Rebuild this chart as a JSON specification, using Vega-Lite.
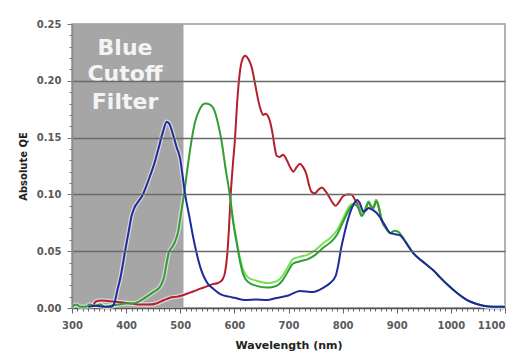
{
  "$schema": "https://vega.github.io/schema/vega-lite/v6.json",
  "width": 433,
  "height": 284,
  "autosize": {"type": "none"},
  "padding": {"left": 72, "top": 24, "right": 8, "bottom": 43},
  "background": "white",
  "config": {"view": {"stroke": "#9a9a9a", "strokeWidth": 1.5}, "font": "DejaVu Sans"},
  "datasets": {
    "filter": [{"wl": 300, "wl2": 506, "qe": 0, "qe2": 0.25}],
    "labels": [
      {"label": "Blue", "wl": 398, "qe": 0.2290},
      {"label": "Cutoff", "wl": 398, "qe": 0.2061},
      {"label": "Filter", "wl": 398, "qe": 0.1812}
    ],
    "curves": [
      {"s": "red", "wl": 340, "qe": 0.003}, {"s": "red", "wl": 345, "qe": 0.006}, {"s": "red", "wl": 355, "qe": 0.0065}, {"s": "red", "wl": 370, "qe": 0.006}, {"s": "red", "wl": 390, "qe": 0.005}, {"s": "red", "wl": 410, "qe": 0.004}, {"s": "red", "wl": 426, "qe": 0.003}, {"s": "red", "wl": 440, "qe": 0.003}, {"s": "red", "wl": 456, "qe": 0.004}, {"s": "red", "wl": 470, "qe": 0.007}, {"s": "red", "wl": 481, "qe": 0.009}, {"s": "red", "wl": 495, "qe": 0.010}, {"s": "red", "wl": 503, "qe": 0.011}, {"s": "red", "wl": 515, "qe": 0.013}, {"s": "red", "wl": 524, "qe": 0.0145}, {"s": "red", "wl": 537, "qe": 0.017}, {"s": "red", "wl": 549, "qe": 0.019}, {"s": "red", "wl": 560, "qe": 0.021}, {"s": "red", "wl": 570, "qe": 0.022}, {"s": "red", "wl": 578, "qe": 0.025}, {"s": "red", "wl": 583, "qe": 0.032}, {"s": "red", "wl": 587, "qe": 0.048}, {"s": "red", "wl": 590, "qe": 0.070}, {"s": "red", "wl": 593, "qe": 0.098}, {"s": "red", "wl": 597, "qe": 0.125}, {"s": "red", "wl": 601, "qe": 0.148}, {"s": "red", "wl": 605, "qe": 0.180}, {"s": "red", "wl": 610, "qe": 0.207}, {"s": "red", "wl": 615, "qe": 0.219}, {"s": "red", "wl": 620, "qe": 0.222}, {"s": "red", "wl": 626, "qe": 0.219}, {"s": "red", "wl": 632, "qe": 0.212}, {"s": "red", "wl": 638, "qe": 0.198}, {"s": "red", "wl": 644, "qe": 0.183}, {"s": "red", "wl": 649, "qe": 0.174}, {"s": "red", "wl": 653, "qe": 0.170}, {"s": "red", "wl": 658, "qe": 0.171}, {"s": "red", "wl": 662, "qe": 0.169}, {"s": "red", "wl": 666, "qe": 0.164}, {"s": "red", "wl": 670, "qe": 0.155}, {"s": "red", "wl": 674, "qe": 0.143}, {"s": "red", "wl": 678, "qe": 0.134}, {"s": "red", "wl": 684, "qe": 0.133}, {"s": "red", "wl": 690, "qe": 0.135}, {"s": "red", "wl": 696, "qe": 0.131}, {"s": "red", "wl": 703, "qe": 0.124}, {"s": "red", "wl": 709, "qe": 0.120}, {"s": "red", "wl": 715, "qe": 0.124}, {"s": "red", "wl": 721, "qe": 0.127}, {"s": "red", "wl": 727, "qe": 0.124}, {"s": "red", "wl": 733, "qe": 0.118}, {"s": "red", "wl": 738, "qe": 0.108}, {"s": "red", "wl": 743, "qe": 0.102}, {"s": "red", "wl": 749, "qe": 0.101}, {"s": "red", "wl": 755, "qe": 0.104}, {"s": "red", "wl": 762, "qe": 0.106}, {"s": "red", "wl": 768, "qe": 0.103}, {"s": "red", "wl": 775, "qe": 0.098}, {"s": "red", "wl": 781, "qe": 0.093}, {"s": "red", "wl": 787, "qe": 0.090}, {"s": "red", "wl": 793, "qe": 0.093}, {"s": "red", "wl": 800, "qe": 0.098}, {"s": "red", "wl": 808, "qe": 0.100}, {"s": "red", "wl": 816, "qe": 0.100}, {"s": "red", "wl": 822, "qe": 0.096}, {"s": "red", "wl": 828, "qe": 0.091}, {"s": "red", "wl": 835, "qe": 0.083}, {"s": "red", "wl": 841, "qe": 0.086}, {"s": "red", "wl": 848, "qe": 0.093}, {"s": "red", "wl": 853, "qe": 0.089}, {"s": "red", "wl": 857, "qe": 0.089}, {"s": "red", "wl": 862, "qe": 0.095}, {"s": "red", "wl": 866, "qe": 0.090}, {"s": "red", "wl": 872, "qe": 0.077},

      {"s": "lightgreen", "wl": 592, "qe": 0.098}, {"s": "lightgreen", "wl": 598, "qe": 0.076}, {"s": "lightgreen", "wl": 604, "qe": 0.060}, {"s": "lightgreen", "wl": 610, "qe": 0.045}, {"s": "lightgreen", "wl": 616, "qe": 0.034}, {"s": "lightgreen", "wl": 625, "qe": 0.027}, {"s": "lightgreen", "wl": 641, "qe": 0.024}, {"s": "lightgreen", "wl": 660, "qe": 0.022}, {"s": "lightgreen", "wl": 671, "qe": 0.0225}, {"s": "lightgreen", "wl": 680, "qe": 0.024}, {"s": "lightgreen", "wl": 690, "qe": 0.029}, {"s": "lightgreen", "wl": 700, "qe": 0.037}, {"s": "lightgreen", "wl": 708, "qe": 0.043}, {"s": "lightgreen", "wl": 720, "qe": 0.045}, {"s": "lightgreen", "wl": 736, "qe": 0.047}, {"s": "lightgreen", "wl": 750, "qe": 0.051}, {"s": "lightgreen", "wl": 764, "qe": 0.057}, {"s": "lightgreen", "wl": 778, "qe": 0.062}, {"s": "lightgreen", "wl": 789, "qe": 0.068}, {"s": "lightgreen", "wl": 800, "qe": 0.078}, {"s": "lightgreen", "wl": 808, "qe": 0.086}, {"s": "lightgreen", "wl": 815, "qe": 0.091}, {"s": "lightgreen", "wl": 822, "qe": 0.092}, {"s": "lightgreen", "wl": 829, "qe": 0.089}, {"s": "lightgreen", "wl": 835, "qe": 0.083}, {"s": "lightgreen", "wl": 841, "qe": 0.087}, {"s": "lightgreen", "wl": 848, "qe": 0.094}, {"s": "lightgreen", "wl": 853, "qe": 0.090}, {"s": "lightgreen", "wl": 857, "qe": 0.089}, {"s": "lightgreen", "wl": 862, "qe": 0.095}, {"s": "lightgreen", "wl": 866, "qe": 0.091}, {"s": "lightgreen", "wl": 872, "qe": 0.078},

      {"s": "green", "wl": 300, "qe": 0.001}, {"s": "green", "wl": 308, "qe": 0.003}, {"s": "green", "wl": 316, "qe": 0.001}, {"s": "green", "wl": 325, "qe": 0.001}, {"s": "green", "wl": 333, "qe": 0.003}, {"s": "green", "wl": 342, "qe": 0.002}, {"s": "green", "wl": 352, "qe": 0.003}, {"s": "green", "wl": 362, "qe": 0.001}, {"s": "green", "wl": 372, "qe": 0.002}, {"s": "green", "wl": 385, "qe": 0.003}, {"s": "green", "wl": 400, "qe": 0.004}, {"s": "green", "wl": 412, "qe": 0.004}, {"s": "green", "wl": 425, "qe": 0.006}, {"s": "green", "wl": 438, "qe": 0.010}, {"s": "green", "wl": 450, "qe": 0.014}, {"s": "green", "wl": 463, "qe": 0.019}, {"s": "green", "wl": 470, "qe": 0.027}, {"s": "green", "wl": 475, "qe": 0.040}, {"s": "green", "wl": 479, "qe": 0.049}, {"s": "green", "wl": 484, "qe": 0.053}, {"s": "green", "wl": 490, "qe": 0.058}, {"s": "green", "wl": 496, "qe": 0.067}, {"s": "green", "wl": 502, "qe": 0.085}, {"s": "green", "wl": 507, "qe": 0.100}, {"s": "green", "wl": 512, "qe": 0.118}, {"s": "green", "wl": 520, "qe": 0.145}, {"s": "green", "wl": 527, "qe": 0.163}, {"s": "green", "wl": 535, "qe": 0.174}, {"s": "green", "wl": 546, "qe": 0.180}, {"s": "green", "wl": 555, "qe": 0.179}, {"s": "green", "wl": 563, "qe": 0.174}, {"s": "green", "wl": 570, "qe": 0.162}, {"s": "green", "wl": 577, "qe": 0.145}, {"s": "green", "wl": 583, "qe": 0.125}, {"s": "green", "wl": 592, "qe": 0.098}, {"s": "green", "wl": 598, "qe": 0.075}, {"s": "green", "wl": 604, "qe": 0.058}, {"s": "green", "wl": 610, "qe": 0.042}, {"s": "green", "wl": 616, "qe": 0.030}, {"s": "green", "wl": 625, "qe": 0.023}, {"s": "green", "wl": 641, "qe": 0.0195}, {"s": "green", "wl": 660, "qe": 0.018}, {"s": "green", "wl": 671, "qe": 0.0185}, {"s": "green", "wl": 680, "qe": 0.020}, {"s": "green", "wl": 690, "qe": 0.025}, {"s": "green", "wl": 700, "qe": 0.033}, {"s": "green", "wl": 708, "qe": 0.039}, {"s": "green", "wl": 720, "qe": 0.041}, {"s": "green", "wl": 736, "qe": 0.043}, {"s": "green", "wl": 750, "qe": 0.047}, {"s": "green", "wl": 764, "qe": 0.053}, {"s": "green", "wl": 778, "qe": 0.058}, {"s": "green", "wl": 789, "qe": 0.064}, {"s": "green", "wl": 800, "qe": 0.075}, {"s": "green", "wl": 808, "qe": 0.083}, {"s": "green", "wl": 815, "qe": 0.089}, {"s": "green", "wl": 822, "qe": 0.091}, {"s": "green", "wl": 829, "qe": 0.088}, {"s": "green", "wl": 835, "qe": 0.081}, {"s": "green", "wl": 841, "qe": 0.085}, {"s": "green", "wl": 848, "qe": 0.093}, {"s": "green", "wl": 853, "qe": 0.089}, {"s": "green", "wl": 857, "qe": 0.088}, {"s": "green", "wl": 862, "qe": 0.094}, {"s": "green", "wl": 866, "qe": 0.090}, {"s": "green", "wl": 872, "qe": 0.077}, {"s": "green", "wl": 880, "qe": 0.070}, {"s": "green", "wl": 888, "qe": 0.066}, {"s": "green", "wl": 896, "qe": 0.068}, {"s": "green", "wl": 903, "qe": 0.067}, {"s": "green", "wl": 910, "qe": 0.063}, {"s": "green", "wl": 917, "qe": 0.058}, {"s": "green", "wl": 924, "qe": 0.053}, {"s": "green", "wl": 931, "qe": 0.048}, {"s": "green", "wl": 945, "qe": 0.042}, {"s": "green", "wl": 958, "qe": 0.037}, {"s": "green", "wl": 968, "qe": 0.033}, {"s": "green", "wl": 980, "qe": 0.027}, {"s": "green", "wl": 995, "qe": 0.020}, {"s": "green", "wl": 1012, "qe": 0.013}, {"s": "green", "wl": 1030, "qe": 0.007}, {"s": "green", "wl": 1045, "qe": 0.004}, {"s": "green", "wl": 1060, "qe": 0.002}, {"s": "green", "wl": 1080, "qe": 0.001}, {"s": "green", "wl": 1100, "qe": 0.001},

      {"s": "blue", "wl": 330, "qe": 0.001}, {"s": "blue", "wl": 345, "qe": 0.002}, {"s": "blue", "wl": 360, "qe": 0.001}, {"s": "blue", "wl": 372, "qe": 0.001}, {"s": "blue", "wl": 378, "qe": 0.004}, {"s": "blue", "wl": 384, "qe": 0.016}, {"s": "blue", "wl": 390, "qe": 0.028}, {"s": "blue", "wl": 398, "qe": 0.050}, {"s": "blue", "wl": 405, "qe": 0.068}, {"s": "blue", "wl": 410, "qe": 0.081}, {"s": "blue", "wl": 415, "qe": 0.088}, {"s": "blue", "wl": 420, "qe": 0.092}, {"s": "blue", "wl": 430, "qe": 0.099}, {"s": "blue", "wl": 437, "qe": 0.107}, {"s": "blue", "wl": 444, "qe": 0.116}, {"s": "blue", "wl": 452, "qe": 0.127}, {"s": "blue", "wl": 459, "qe": 0.139}, {"s": "blue", "wl": 468, "qe": 0.155}, {"s": "blue", "wl": 475, "qe": 0.164}, {"s": "blue", "wl": 480, "qe": 0.162}, {"s": "blue", "wl": 487, "qe": 0.152}, {"s": "blue", "wl": 493, "qe": 0.142}, {"s": "blue", "wl": 500, "qe": 0.131}, {"s": "blue", "wl": 505, "qe": 0.114}, {"s": "blue", "wl": 509, "qe": 0.100}, {"s": "blue", "wl": 517, "qe": 0.080}, {"s": "blue", "wl": 524, "qe": 0.062}, {"s": "blue", "wl": 537, "qe": 0.036}, {"s": "blue", "wl": 550, "qe": 0.022}, {"s": "blue", "wl": 561, "qe": 0.017}, {"s": "blue", "wl": 575, "qe": 0.012}, {"s": "blue", "wl": 590, "qe": 0.010}, {"s": "blue", "wl": 600, "qe": 0.009}, {"s": "blue", "wl": 620, "qe": 0.007}, {"s": "blue", "wl": 640, "qe": 0.0075}, {"s": "blue", "wl": 660, "qe": 0.007}, {"s": "blue", "wl": 678, "qe": 0.0088}, {"s": "blue", "wl": 700, "qe": 0.011}, {"s": "blue", "wl": 721, "qe": 0.015}, {"s": "blue", "wl": 745, "qe": 0.014}, {"s": "blue", "wl": 765, "qe": 0.018}, {"s": "blue", "wl": 777, "qe": 0.022}, {"s": "blue", "wl": 787, "qe": 0.028}, {"s": "blue", "wl": 792, "qe": 0.038}, {"s": "blue", "wl": 797, "qe": 0.052}, {"s": "blue", "wl": 803, "qe": 0.065}, {"s": "blue", "wl": 810, "qe": 0.078}, {"s": "blue", "wl": 818, "qe": 0.089}, {"s": "blue", "wl": 827, "qe": 0.095}, {"s": "blue", "wl": 832, "qe": 0.092}, {"s": "blue", "wl": 838, "qe": 0.085}, {"s": "blue", "wl": 843, "qe": 0.086}, {"s": "blue", "wl": 848, "qe": 0.088}, {"s": "blue", "wl": 853, "qe": 0.087}, {"s": "blue", "wl": 857, "qe": 0.086}, {"s": "blue", "wl": 862, "qe": 0.084}, {"s": "blue", "wl": 869, "qe": 0.080}, {"s": "blue", "wl": 878, "qe": 0.073}, {"s": "blue", "wl": 888, "qe": 0.066}, {"s": "blue", "wl": 897, "qe": 0.065}, {"s": "blue", "wl": 906, "qe": 0.064}, {"s": "blue", "wl": 915, "qe": 0.059}, {"s": "blue", "wl": 923, "qe": 0.053}, {"s": "blue", "wl": 931, "qe": 0.048}, {"s": "blue", "wl": 945, "qe": 0.042}, {"s": "blue", "wl": 958, "qe": 0.037}, {"s": "blue", "wl": 968, "qe": 0.033}, {"s": "blue", "wl": 980, "qe": 0.027}, {"s": "blue", "wl": 995, "qe": 0.020}, {"s": "blue", "wl": 1012, "qe": 0.013}, {"s": "blue", "wl": 1030, "qe": 0.007}, {"s": "blue", "wl": 1045, "qe": 0.004}, {"s": "blue", "wl": 1060, "qe": 0.002}, {"s": "blue", "wl": 1080, "qe": 0.001}, {"s": "blue", "wl": 1100, "qe": 0.001}
    ]
  },
  "encoding": {
    "x": {
      "field": "wl", "type": "quantitative",
      "scale": {"domain": [300, 1100], "nice": false, "zero": false},
      "axis": {
        "title": "Wavelength (nm)", "tickCount": 80, "grid": false, "format": "d",
        "labelExpr": "datum.value % 100 === 0 ? datum.label : ''",
        "labelOverlap": false, "labelFlush": false,
        "labelAlign": {"condition": {"test": "datum.value >= 1100", "value": "right"}, "value": "center"},
        "domainColor": "#555555", "domainWidth": 1.5,
        "tickColor": "#666666",
        "tickSize": {"condition": {"test": "datum.value % 100 === 0", "value": 5}, "value": 3},
        "labelFont": "DejaVu Sans", "labelFontWeight": "bold", "labelFontSize": 10, "labelColor": "#5a5a5a", "labelPadding": 7,
        "titleFont": "DejaVu Sans", "titleFontWeight": "bold", "titleFontSize": 11, "titleColor": "#222222", "titlePadding": 9
      }
    },
    "y": {
      "field": "qe", "type": "quantitative",
      "scale": {"domain": [0, 0.25], "nice": false},
      "axis": {
        "title": "Absolute QE", "tickCount": 25, "zindex": 1,
        "labelExpr": "abs(round(datum.value * 100)) % 5 === 0 ? format(datum.value, '.2f') : ''",
        "labelOverlap": false, "labelFlush": false,
        "grid": true, "gridColor": "#6a6a6a", "gridWidth": 1.5,
        "gridOpacity": {"condition": {"test": "abs(round(datum.value * 100)) % 5 === 0 && datum.value > 0.001 && datum.value < 0.249", "value": 1}, "value": 0},
        "domainColor": "#8a8a8a", "domainWidth": 1.5,
        "tickColor": "#777777",
        "tickSize": {"condition": {"test": "abs(round(datum.value * 100)) % 5 === 0", "value": 5}, "value": 3},
        "labelFont": "DejaVu Sans", "labelFontWeight": "bold", "labelFontSize": 10, "labelColor": "#5a5a5a", "labelPadding": 6,
        "titleFont": "DejaVu Sans", "titleFontWeight": "bold", "titleFontSize": 10, "titleColor": "#222222", "titlePadding": 8
      }
    }
  },
  "layer": [
    {
      "data": {"name": "filter"},
      "mark": {"type": "rect", "color": "#a6a6a6"},
      "encoding": {"x2": {"field": "wl2"}, "y2": {"field": "qe2"}}
    },
    {
      "data": {"name": "labels"},
      "mark": {"type": "text", "font": "DejaVu Sans", "fontWeight": "bold", "fontSize": 22, "color": "#f4f4f4", "align": "center", "baseline": "middle"},
      "encoding": {"text": {"field": "label"}}
    },
    {
      "data": {"name": "curves"},
      "mark": {"type": "line", "color": "white", "strokeWidth": 4.5, "opacity": 0.55, "interpolate": "monotone"},
      "encoding": {"detail": {"field": "s"}}
    },
    {
      "data": {"name": "curves"},
      "transform": [{"filter": "datum.s === 'red'"}],
      "mark": {"type": "line", "color": "#b3202c", "strokeWidth": 2, "interpolate": "monotone"}
    },
    {
      "data": {"name": "curves"},
      "transform": [{"filter": "datum.s === 'lightgreen'"}],
      "mark": {"type": "line", "color": "#7adf55", "strokeWidth": 2, "interpolate": "monotone"}
    },
    {
      "data": {"name": "curves"},
      "transform": [{"filter": "datum.s === 'green'"}],
      "mark": {"type": "line", "color": "#2f9e34", "strokeWidth": 2, "interpolate": "monotone"}
    },
    {
      "data": {"name": "curves"},
      "transform": [{"filter": "datum.s === 'blue'"}],
      "mark": {"type": "line", "color": "#1f2a9c", "strokeWidth": 2, "interpolate": "monotone"}
    }
  ]
}
